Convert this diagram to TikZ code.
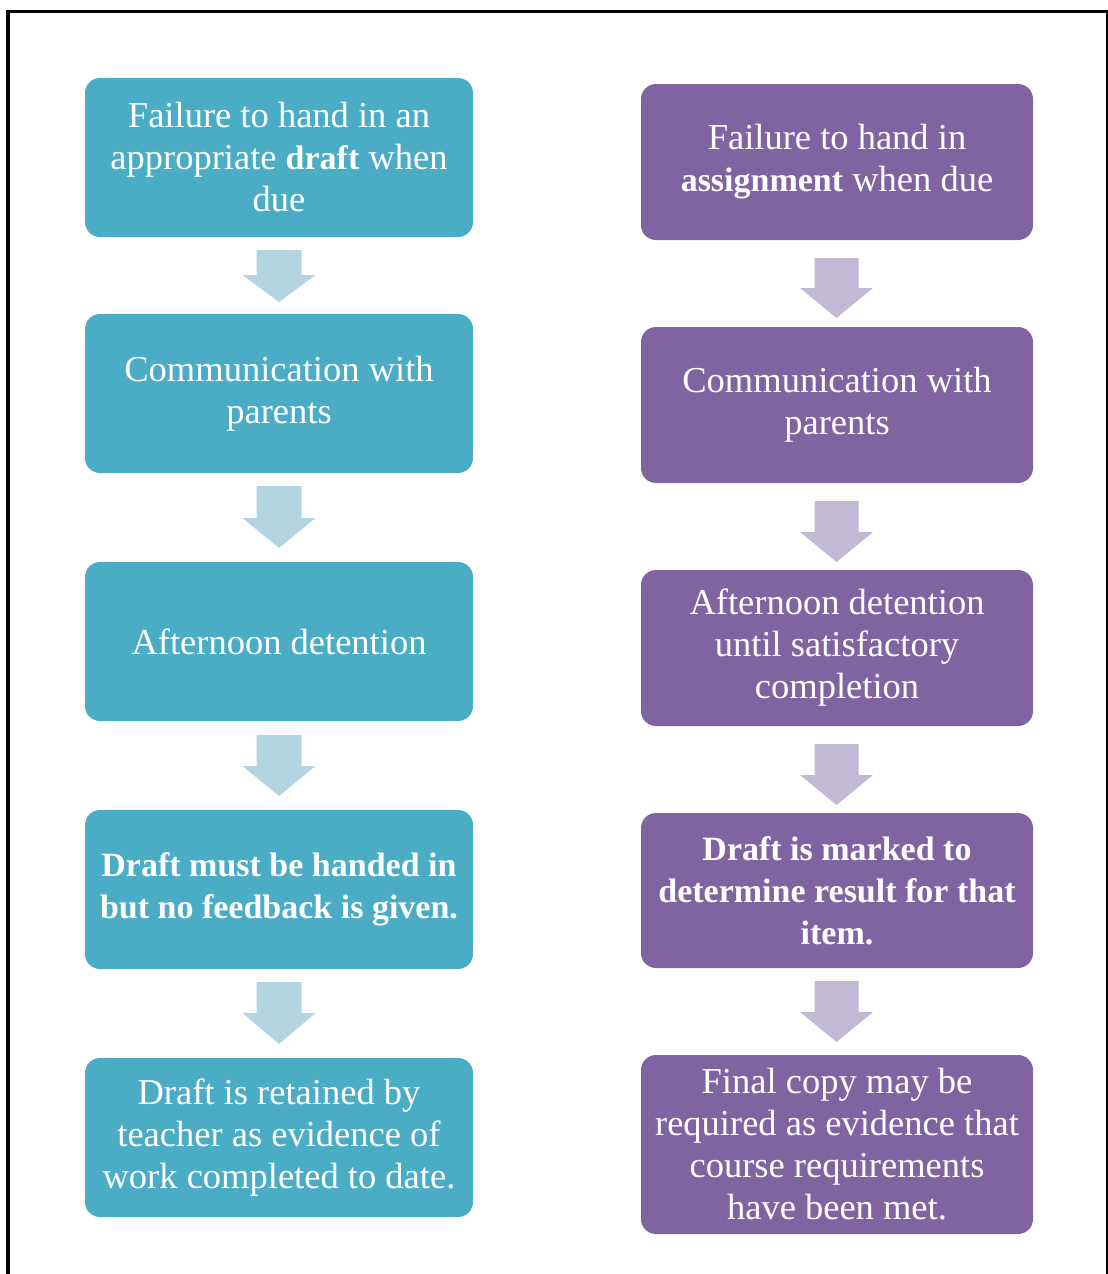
\documentclass[tikz,border=0pt]{standalone}
\usepackage{fontspec}
\setmainfont{Liberation Serif}
\definecolor{teal}{HTML}{4BACC6}
\definecolor{lteal}{HTML}{B3D4E0}
\definecolor{purp}{HTML}{8064A2}
\definecolor{lpurp}{HTML}{C2B9D4}
\newcommand{\bw}[1]{{\fontsize{34}{42}\selectfont\textbf{#1}}}
\begin{document}
\begin{tikzpicture}[x=1pt,y=-1pt,
  boxbase/.style={rounded corners=15pt, inner sep=0pt, align=center, text=white,
    font=\fontsize{36.5}{42}\selectfont},
  lbox/.style={boxbase, fill=teal, minimum width=388pt, minimum height=159pt},
  rbox/.style={boxbase, fill=purp, minimum width=392pt, minimum height=156pt},
  larrow/.style={fill=lteal},
  rarrow/.style={fill=lpurp}]
\useasboundingbox (0,0) rectangle (1108,1274);
% frame
\draw[line width=3.5pt] (8,1274) -- (8,11.5) -- (1106,11.5);
\draw[line width=2pt] (1106.5,10) -- (1106.5,1274);
% left column
\node[lbox] (l1) at (279,157.5) {Failure to hand in an\\appropriate \bw{draft} when\\due};
\node[lbox] (l2) at (279,393.5) {Communication with\\parents};
\node[lbox] (l3) at (279,641.5) {Afternoon detention};
\node[lbox] (l4) at (279,889.5) {\bw{Draft must be handed in}\\\bw{but no feedback is given.}};
\node[lbox] (l5) at (279,1137.5) {Draft is retained by\\teacher as evidence of\\work completed to date.};
% right column
\node[rbox] (r1) at (837,162) {Failure to hand in\\\bw{assignment} when due};
\node[rbox] (r2) at (837,405) {Communication with\\parents};
\node[rbox] (r3) at (837,648) {Afternoon detention\\until satisfactory\\completion};
\node[rbox, minimum height=155pt] (r4) at (837,890.5) {\bw{Draft is marked to}\\\bw{determine result for that}\\\bw{item.}};
\node[rbox, minimum height=179pt] (r5) at (837,1144.5) {Final copy may be\\required as evidence that\\course requirements\\have been met.};
% block arrows: \blockarrow{style}{x}{top}{headstart}{tip}{shafthalf}{headhalf}
\newcommand{\blockarrow}[7]{%
  \fill[#1] (#2-#6,#3) -- (#2+#6,#3) -- (#2+#6,#4) -- (#2+#7,#4) -- (#2,#5)
     -- (#2-#7,#4) -- (#2-#6,#4) -- cycle;}
\blockarrow{larrow}{279}{250}{275}{302}{22.5}{36.5}
\blockarrow{larrow}{279}{486}{518}{548}{22.5}{36.5}
\blockarrow{larrow}{279}{735}{766}{796}{22.5}{36.5}
\blockarrow{larrow}{279}{982}{1013}{1044}{22.5}{36.5}
\blockarrow{rarrow}{836.5}{258}{288}{318}{22}{36.5}
\blockarrow{rarrow}{836.5}{501}{532}{562}{22}{36.5}
\blockarrow{rarrow}{836.5}{744}{775}{805}{22}{36.5}
\blockarrow{rarrow}{836.5}{981}{1012}{1042}{22}{36.5}
\end{tikzpicture}
\end{document}
